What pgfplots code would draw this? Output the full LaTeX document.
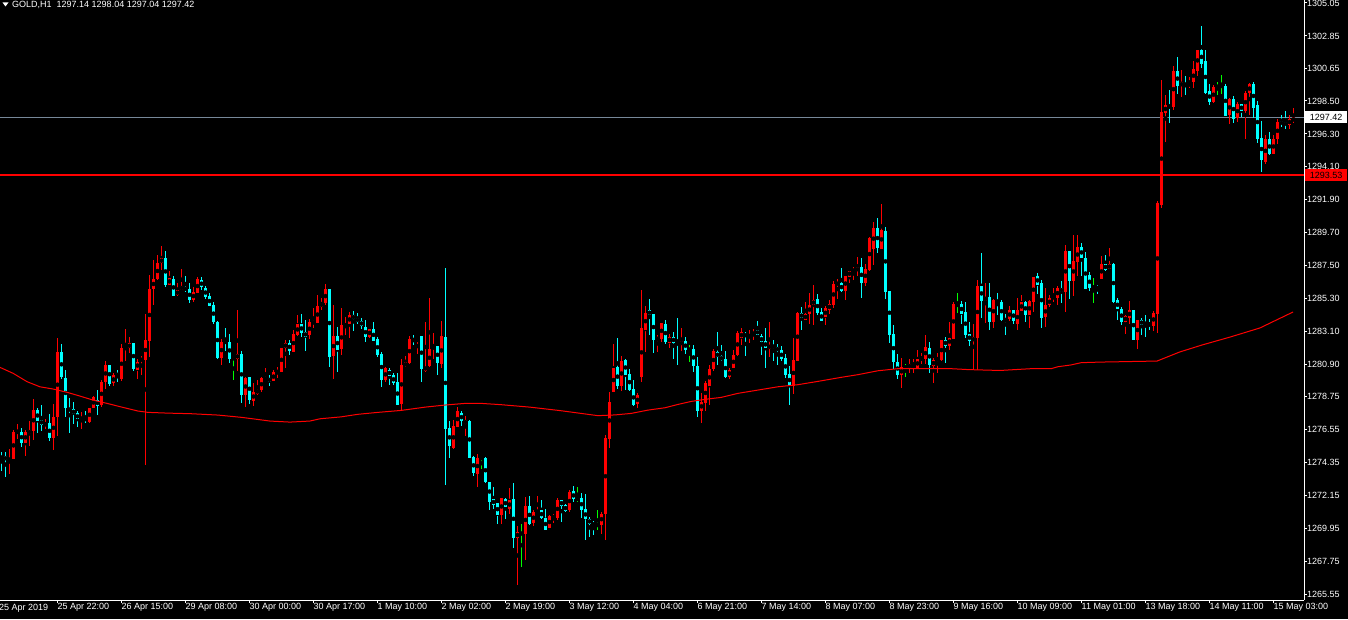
\documentclass[border=0pt]{standalone}
\usepackage{pgfplots}
\pgfplotsset{compat=1.18}
\usepackage{pgfplotstable}
\usepackage{fontspec}
\setmainfont{Liberation Sans}
\definecolor{bullc}{RGB}{255,0,0}
\definecolor{bearc}{RGB}{0,255,255}
\definecolor{dojic}{RGB}{0,255,0}
\definecolor{bidc}{RGB}{119,136,153}
\newcommand\axfont{\fontsize{9}{10}\selectfont}

\pgfplotstableread{
k o h l c
0 1274.79 1275.04 1273.79 1274.57
1 1274.77 1275.04 1273.39 1274.50
2 1274.45 1275.24 1273.57 1274.63
3 1274.59 1276.51 1274.55 1276.38
4 1276.33 1276.91 1275.89 1276.46
5 1276.42 1276.63 1275.39 1275.66
6 1275.66 1276.51 1274.77 1276.38
7 1276.24 1277.13 1275.44 1276.51
8 1276.46 1278.58 1275.84 1277.89
9 1277.84 1278.02 1276.33 1277.13
10 1277.18 1278.18 1276.46 1276.87
11 1276.83 1277.23 1276.60 1276.98
12 1276.96 1277.57 1275.79 1275.97
13 1275.97 1278.24 1275.17 1277.36
14 1277.36 1282.65 1276.11 1281.73
15 1281.73 1282.30 1279.94 1280.07
16 1280.03 1280.52 1277.39 1277.97
17 1277.97 1278.69 1276.33 1277.79
18 1277.89 1278.42 1276.91 1277.57
19 1277.62 1277.75 1276.73 1277.23
20 1277.23 1277.75 1276.60 1277.36
21 1277.31 1277.79 1276.96 1277.18
22 1277.05 1278.02 1276.96 1278.02
23 1278.02 1278.78 1278.02 1278.69
24 1278.56 1279.18 1277.53 1278.11
25 1278.16 1279.85 1278.06 1279.72
26 1279.72 1281.10 1279.27 1280.88
27 1280.88 1280.88 1279.45 1279.63
28 1279.63 1280.34 1279.50 1280.17
29 1280.30 1280.52 1279.72 1280.12
30 1279.92 1282.25 1279.80 1281.99
31 1281.93 1283.26 1281.14 1282.06
32 1281.99 1282.74 1281.68 1282.30
33 1282.30 1282.30 1280.47 1280.61
34 1280.57 1281.28 1279.94 1281.10
35 1281.14 1281.46 1280.21 1281.28
36 1281.23 1284.26 1274.19 1282.52
37 1282.47 1286.85 1281.41 1285.92
38 1285.96 1287.87 1284.89 1286.59
39 1286.63 1288.22 1286.54 1287.65
40 1287.65 1288.81 1287.20 1288.01
41 1288.05 1288.45 1286.05 1286.19
42 1286.23 1287.11 1286.23 1286.67
43 1286.59 1286.80 1285.47 1285.51
44 1285.51 1286.32 1285.51 1285.87
45 1285.87 1287.25 1285.87 1286.14
46 1286.05 1286.80 1285.74 1285.87
47 1285.92 1286.32 1285.02 1285.20
48 1285.20 1286.05 1285.07 1285.74
49 1285.69 1286.72 1285.65 1286.59
50 1286.54 1286.72 1285.87 1286.05
51 1286.00 1286.14 1285.29 1285.42
52 1285.47 1285.65 1284.80 1284.80
53 1284.85 1285.11 1283.64 1283.73
54 1283.73 1283.77 1281.28 1281.32
55 1281.32 1282.57 1280.88 1282.39
56 1282.47 1283.33 1281.81 1282.34
57 1282.39 1282.92 1280.97 1281.28
58 1281.37 1281.41 1279.85 1281.28
59 1281.28 1284.53 1280.47 1281.59
60 1281.59 1281.77 1278.29 1278.87
61 1278.87 1280.07 1278.06 1279.99
62 1280.03 1280.03 1278.24 1278.51
63 1278.47 1279.67 1278.16 1279.05
64 1278.96 1279.90 1278.87 1279.23
65 1279.18 1280.07 1279.05 1279.99
66 1279.90 1280.65 1279.85 1280.03
67 1280.03 1280.17 1279.45 1279.72
68 1279.78 1280.52 1279.76 1280.39
69 1280.34 1280.74 1279.99 1280.47
70 1280.43 1282.04 1280.39 1281.99
71 1281.99 1282.57 1280.65 1282.34
72 1282.34 1282.52 1281.55 1281.81
73 1281.73 1283.19 1281.73 1282.92
74 1282.88 1284.22 1282.79 1283.59
75 1283.59 1284.26 1282.74 1283.01
76 1283.06 1283.86 1281.81 1282.74
77 1282.84 1283.91 1282.61 1283.73
78 1283.64 1284.66 1283.33 1283.77
79 1283.68 1285.55 1283.64 1284.80
80 1284.75 1285.33 1284.53 1285.02
81 1284.98 1286.27 1284.89 1285.96
82 1285.96 1285.96 1280.70 1281.37
83 1281.46 1284.89 1279.94 1282.79
84 1282.79 1283.41 1280.39 1281.86
85 1281.90 1284.66 1281.55 1283.51
86 1283.46 1284.08 1282.84 1283.59
87 1283.59 1284.40 1282.70 1284.22
88 1284.22 1284.44 1283.10 1283.91
89 1284.04 1284.35 1283.64 1283.73
90 1283.82 1284.00 1283.24 1283.46
91 1283.39 1283.84 1282.37 1282.72
92 1282.77 1283.26 1282.67 1283.26
93 1283.26 1283.71 1282.46 1282.50
94 1282.59 1282.72 1281.39 1281.52
95 1281.57 1281.74 1279.38 1279.87
96 1279.83 1280.72 1279.74 1280.63
97 1280.50 1280.63 1279.52 1280.14
98 1280.19 1280.32 1279.52 1279.65
99 1279.70 1280.32 1278.18 1278.22
100 1278.26 1281.26 1277.78 1280.86
101 1280.77 1281.44 1280.72 1281.04
102 1280.99 1282.77 1280.90 1282.59
103 1282.59 1282.86 1282.23 1282.46
104 1282.46 1282.63 1281.61 1282.63
105 1282.77 1282.77 1279.74 1280.59
106 1280.50 1283.71 1280.41 1280.77
107 1280.77 1285.35 1280.72 1281.93
108 1281.93 1282.99 1281.26 1282.11
109 1282.11 1282.11 1280.19 1280.99
110 1280.90 1283.79 1280.67 1282.77
111 1282.77 1287.36 1272.83 1276.58
112 1276.62 1277.11 1274.66 1275.42
113 1275.28 1277.16 1275.28 1276.76
114 1276.71 1278.09 1276.71 1277.78
115 1277.64 1277.82 1276.80 1277.11
116 1276.89 1277.42 1276.09 1277.20
117 1277.11 1277.20 1274.62 1274.66
118 1274.70 1274.79 1273.45 1273.63
119 1273.59 1274.88 1272.70 1274.62
120 1274.63 1274.68 1273.92 1274.63
121 1274.63 1274.72 1272.99 1273.03
122 1273.08 1273.08 1271.16 1271.74
123 1271.88 1272.68 1271.25 1271.52
124 1271.61 1271.61 1270.23 1270.85
125 1270.85 1271.96 1270.23 1271.96
126 1271.88 1271.96 1270.58 1271.38
127 1271.25 1272.63 1270.94 1271.83
128 1271.88 1272.95 1268.62 1269.29
129 1269.29 1270.09 1266.17 1269.69
130 1269.60 1270.27 1267.37 1269.60
131 1269.56 1272.05 1267.82 1271.43
132 1271.43 1272.14 1270.18 1270.27
133 1270.27 1271.21 1270.14 1271.03
134 1270.98 1272.10 1270.98 1271.16
135 1271.16 1271.83 1270.54 1270.63
136 1270.67 1271.21 1269.82 1269.82
137 1269.96 1270.85 1269.96 1270.76
138 1270.63 1270.89 1270.31 1270.76
139 1270.67 1271.96 1270.49 1271.83
140 1271.83 1271.83 1270.36 1271.43
141 1271.48 1271.56 1271.03 1271.11
142 1271.16 1272.50 1271.07 1272.37
143 1272.41 1272.81 1271.74 1271.88
144 1271.88 1272.68 1271.70 1271.96
145 1271.96 1272.28 1270.63 1271.16
146 1271.21 1272.23 1269.16 1270.54
147 1270.58 1270.67 1269.34 1270.23
148 1270.27 1270.45 1269.47 1270.14
149 1270.23 1271.16 1269.82 1270.14
150 1270.18 1271.07 1269.56 1270.94
151 1270.89 1276.20 1269.16 1275.97
152 1275.93 1279.05 1275.30 1278.38
153 1279.05 1282.25 1279.05 1280.65
154 1280.70 1282.65 1279.27 1279.45
155 1279.45 1281.46 1279.10 1281.14
156 1281.23 1281.23 1279.18 1280.17
157 1280.25 1280.57 1279.14 1279.18
158 1279.23 1279.90 1278.11 1278.16
159 1278.24 1279.00 1277.97 1278.83
160 1280.07 1285.92 1279.72 1283.33
161 1283.24 1284.80 1281.73 1284.35
162 1284.53 1285.29 1282.88 1284.17
163 1284.26 1284.26 1281.68 1282.52
164 1282.52 1282.88 1281.73 1282.70
165 1282.61 1283.68 1282.39 1283.68
166 1283.59 1283.86 1282.25 1282.39
167 1282.34 1282.92 1281.99 1282.74
168 1282.74 1283.06 1281.23 1282.34
169 1282.34 1284.00 1280.88 1282.21
170 1282.17 1283.33 1281.81 1282.47
171 1282.47 1282.70 1281.59 1281.86
172 1281.90 1282.21 1281.05 1281.90
173 1281.94 1282.17 1280.39 1280.79
174 1280.83 1281.41 1277.39 1277.79
175 1277.79 1279.00 1276.99 1278.42
176 1278.33 1279.80 1277.79 1279.67
177 1279.45 1280.88 1278.16 1280.61
178 1280.57 1281.95 1280.43 1281.81
179 1281.73 1283.06 1280.88 1281.37
180 1281.46 1282.21 1281.10 1281.19
181 1281.28 1281.77 1279.99 1280.03
182 1280.07 1280.65 1279.94 1280.52
183 1280.65 1281.86 1280.65 1281.50
184 1281.50 1283.15 1281.46 1282.97
185 1282.65 1283.37 1282.17 1283.06
186 1282.92 1283.06 1281.46 1282.79
187 1282.74 1283.19 1282.34 1282.88
188 1282.84 1283.28 1282.52 1283.10
189 1283.19 1283.82 1282.84 1282.88
190 1282.79 1282.92 1281.55 1282.39
191 1282.47 1283.33 1280.65 1281.99
192 1281.94 1283.73 1281.41 1282.21
193 1282.21 1282.52 1281.10 1281.99
194 1282.08 1282.25 1280.88 1281.77
195 1281.86 1282.12 1281.14 1281.23
196 1281.32 1281.59 1279.99 1280.21
197 1280.25 1280.79 1278.20 1279.45
198 1279.50 1282.65 1278.91 1281.19
199 1281.14 1284.44 1281.10 1284.35
200 1284.35 1284.71 1283.19 1284.00
201 1283.91 1285.07 1283.91 1284.26
202 1284.26 1285.69 1283.64 1284.89
203 1284.89 1286.23 1283.55 1285.20
204 1285.29 1285.60 1284.22 1284.31
205 1284.40 1284.66 1283.82 1283.82
206 1284.04 1284.80 1283.55 1284.66
207 1284.53 1285.20 1284.31 1284.98
208 1284.89 1286.49 1284.66 1286.27
209 1286.23 1286.63 1285.24 1286.36
210 1286.32 1287.34 1285.74 1285.82
211 1285.82 1286.80 1285.20 1286.80
212 1286.76 1287.16 1286.32 1287.16
213 1287.12 1287.43 1286.54 1287.25
214 1287.12 1288.09 1286.80 1287.43
215 1287.43 1288.01 1285.33 1286.36
216 1286.36 1287.61 1286.14 1287.29
217 1287.20 1289.39 1287.16 1289.34
218 1288.63 1290.41 1287.52 1290.01
219 1290.01 1290.68 1288.36 1288.68
220 1288.63 1291.62 1288.63 1289.88
221 1289.83 1290.10 1285.29 1285.74
222 1285.82 1285.82 1282.34 1282.88
223 1282.92 1283.55 1280.61 1281.05
224 1281.05 1281.59 1279.94 1280.21
225 1280.17 1281.32 1279.36 1280.70
226 1280.74 1280.92 1280.03 1280.65
227 1280.65 1281.23 1280.30 1280.92
228 1280.79 1281.23 1280.30 1281.01
229 1280.65 1281.86 1280.65 1281.28
230 1281.23 1281.63 1280.92 1281.41
231 1281.23 1282.88 1280.92 1282.08
232 1281.99 1282.39 1280.34 1280.88
233 1280.79 1281.32 1279.67 1281.19
234 1281.19 1281.63 1280.30 1281.32
235 1281.19 1282.52 1281.10 1282.52
236 1282.57 1282.74 1280.97 1282.12
237 1282.17 1283.77 1281.90 1282.70
238 1282.61 1285.07 1282.61 1284.93
239 1284.85 1285.65 1284.31 1284.93
240 1284.93 1285.11 1283.59 1284.31
241 1284.40 1285.07 1282.70 1282.84
242 1282.92 1283.73 1282.12 1282.47
243 1282.47 1283.59 1280.57 1282.70
244 1282.65 1286.54 1280.52 1286.14
245 1286.14 1288.32 1284.00 1285.15
246 1285.15 1286.32 1283.68 1285.42
247 1285.38 1286.32 1283.19 1283.73
248 1283.73 1285.29 1283.37 1285.20
249 1285.20 1285.65 1284.22 1285.02
250 1285.07 1285.24 1283.82 1283.86
251 1283.95 1284.26 1282.88 1283.82
252 1283.95 1284.80 1283.82 1284.53
253 1284.53 1284.53 1283.59 1283.82
254 1283.59 1285.33 1283.24 1284.53
255 1284.49 1285.55 1284.44 1285.07
256 1285.07 1285.15 1283.73 1284.22
257 1284.17 1285.20 1283.33 1285.11
258 1285.07 1286.72 1284.40 1286.72
259 1286.80 1287.02 1285.60 1286.23
260 1286.36 1286.54 1283.33 1284.04
261 1284.04 1286.00 1283.41 1284.85
262 1284.85 1285.55 1284.75 1285.33
263 1285.29 1286.00 1285.07 1285.47
264 1285.33 1286.14 1284.89 1286.00
265 1286.00 1286.49 1285.02 1285.74
266 1285.74 1288.90 1284.40 1288.49
267 1288.49 1288.49 1285.29 1286.45
268 1286.45 1289.56 1285.51 1287.79
269 1287.74 1289.56 1286.80 1288.76
270 1288.76 1289.03 1286.80 1288.01
271 1288.01 1288.41 1285.96 1285.96
272 1286.85 1287.07 1285.82 1286.00
273 1286.00 1286.67 1285.02 1286.09
274 1286.09 1286.23 1285.60 1285.96
275 1286.63 1288.14 1286.59 1287.61
276 1287.65 1288.22 1287.16 1287.20
277 1287.25 1288.68 1287.25 1287.61
278 1287.61 1287.69 1285.02 1285.07
279 1285.20 1285.33 1283.86 1284.58
280 1284.62 1284.71 1283.55 1283.73
281 1283.73 1284.22 1282.92 1284.17
282 1284.04 1285.15 1283.59 1284.53
283 1284.53 1284.53 1282.52 1282.52
284 1282.52 1283.86 1281.94 1283.86
285 1283.86 1284.04 1282.88 1283.55
286 1283.68 1284.22 1282.74 1283.55
287 1283.68 1283.95 1283.19 1283.46
288 1283.46 1284.49 1283.15 1284.35
289 1284.26 1291.84 1282.97 1291.70
290 1291.53 1299.90 1291.35 1297.77
291 1297.72 1298.92 1295.76 1298.25
292 1298.25 1299.23 1297.05 1298.03
293 1298.08 1300.84 1297.90 1300.52
294 1300.52 1301.46 1298.97 1299.50
295 1299.50 1300.57 1298.75 1299.77
296 1299.72 1300.17 1298.92 1299.50
297 1299.50 1300.12 1299.37 1299.72
298 1299.77 1301.19 1299.37 1300.62
299 1300.52 1301.91 1300.17 1301.91
300 1301.91 1303.51 1300.70 1301.02
301 1301.19 1301.91 1299.01 1299.05
302 1299.19 1299.63 1298.25 1298.43
303 1298.43 1299.59 1298.35 1299.41
304 1299.41 1299.77 1298.88 1299.50
305 1299.50 1300.22 1298.97 1299.50
306 1299.50 1299.63 1297.50 1297.54
307 1297.54 1298.70 1296.96 1298.61
308 1298.61 1298.83 1297.01 1297.32
309 1297.36 1298.43 1297.10 1298.30
310 1298.30 1298.30 1297.41 1297.81
311 1297.81 1299.15 1295.98 1299.05
312 1299.05 1299.72 1297.54 1299.63
313 1299.63 1299.77 1297.36 1298.08
314 1298.21 1298.52 1295.71 1295.98
315 1296.03 1297.14 1293.75 1294.56
316 1294.42 1296.21 1294.29 1295.94
317 1295.94 1296.43 1294.91 1295.00
318 1295.00 1296.21 1294.96 1295.94
319 1295.94 1297.28 1295.67 1297.10
320 1297.14 1297.58 1296.78 1296.96
321 1297.10 1297.81 1296.61 1296.87
322 1296.87 1297.54 1296.65 1297.32
323 1297.14 1298.04 1297.04 1297.42
}\candles

\pgfplotstableread{
k ma
-0.4 1280.70
2.9 1280.30
6.4 1279.74
9.6 1279.40
12.9 1279.25
16.4 1279.03
19.6 1278.78
22.9 1278.51
26.4 1278.29
30.1 1278.04
34.1 1277.78
36.6 1277.69
41.6 1277.64
47.4 1277.60
54.1 1277.51
59.9 1277.36
63.4 1277.24
67.1 1277.11
72.1 1277.04
77.1 1277.11
79.6 1277.26
84.9 1277.39
89.1 1277.56
94.1 1277.69
99.9 1277.82
105.9 1278.04
110.9 1278.18
115.9 1278.29
119.9 1278.29
124.6 1278.21
132.1 1278.04
139.6 1277.81
149.1 1277.47
153.4 1277.52
157.4 1277.62
161.6 1277.84
165.9 1278.00
169.1 1278.22
172.4 1278.42
175.9 1278.56
179.9 1278.69
184.1 1278.96
189.1 1279.18
194.1 1279.40
199.1 1279.54
204.1 1279.76
209.9 1280.03
214.1 1280.21
219.1 1280.47
224.1 1280.61
237.4 1280.61
241.6 1280.55
249.6 1280.49
257.4 1280.61
262.4 1280.61
264.1 1280.74
267.4 1280.86
269.9 1281.01
274.6 1281.05
288.9 1281.12
294.6 1281.73
300.1 1282.19
307.1 1282.72
314.6 1283.33
322.9 1284.40
}\maline

\pgfplotsset{
  cdl/.style n args={2}{only marks, mark=none, forget plot,
    unbounded coords=discard,
    error bars/.cd, y dir=both, y explicit, error mark=none,
    error bar style={draw=#1, line width=#2}},
}

\begin{document}
\begin{tikzpicture}[x=1pt,y=1pt]
\useasboundingbox (0,0) rectangle (1348,619);
\fill[black] (0,0) rectangle (1348,619);
\begin{axis}[
  at={(0pt,19pt)}, anchor=south west,
  scale only axis, width=1304pt, height=600pt,
  xmin=-0.375, xmax=325.625, ymin=1265.15, ymax=1305.25,
  axis x line*=bottom, axis y line*=right,
  axis line style={white, line width=1pt},
  clip mode=individual,
  tick align=outside, major tick length=3pt,
  tick style={white, line width=1pt},
  ytick={1265.55,1267.75,1269.95,1272.15,1274.35,1276.55,1278.75,1280.90,1283.10,1285.30,1287.50,1289.70,1291.90,1294.10,1296.30,1298.50,1300.65,1302.85,1305.05},
  yticklabels={1265.55,1267.75,1269.95,1272.15,1274.35,1276.55,1278.75,1280.90,1283.10,1285.30,1287.50,1289.70,1291.90,1294.10,1296.30,1298.50,1300.65,1302.85,1305.05},
  yticklabel style={text=white, font=\axfont, anchor=west, inner sep=0pt},
  xtick={14,30,46,62,78,94,110,126,142,158,174,190,206,222,238,254,270,286,302,318},
  xticklabels={25 Apr 22:00,26 Apr 15:00,29 Apr 08:00,30 Apr 00:00,30 Apr 17:00,1 May 10:00,2 May 02:00,2 May 19:00,3 May 12:00,4 May 04:00,6 May 21:00,7 May 14:00,8 May 07:00,8 May 23:00,9 May 16:00,10 May 09:00,11 May 01:00,13 May 18:00,14 May 11:00,15 May 03:00},
  xticklabel style={text=white, font=\axfont, anchor=north west, inner sep=0pt},
]
% bid line under candles
\addplot[bidc, line width=1pt, forget plot] coordinates {(-0.375,1297.42) (325.625,1297.42)};
% wicks
\addplot[cdl={bullc}{1pt}] table[x expr={\thisrow{c}>\thisrow{o} ? \thisrow{k} : nan}, y expr={(\thisrow{h}+\thisrow{l})/2}, y error expr={(\thisrow{h}-\thisrow{l})/2}] {\candles};
\addplot[cdl={bearc}{1pt}] table[x expr={\thisrow{c}<\thisrow{o} ? \thisrow{k} : nan}, y expr={(\thisrow{h}+\thisrow{l})/2}, y error expr={(\thisrow{h}-\thisrow{l})/2}] {\candles};
\addplot[cdl={dojic}{1pt}] table[x expr={\thisrow{c}==\thisrow{o} ? \thisrow{k} : nan}, y expr={(\thisrow{h}+\thisrow{l})/2}, y error expr={(\thisrow{h}-\thisrow{l})/2}] {\candles};
% bodies
\addplot[cdl={bullc}{3pt}] table[x expr={\thisrow{c}>\thisrow{o} ? \thisrow{k} : nan}, y expr={(\thisrow{o}+\thisrow{c})/2}, y error expr={max(abs(\thisrow{c}-\thisrow{o})/2,0.034)}] {\candles};
\addplot[cdl={bearc}{3pt}] table[x expr={\thisrow{c}<\thisrow{o} ? \thisrow{k} : nan}, y expr={(\thisrow{o}+\thisrow{c})/2}, y error expr={max(abs(\thisrow{c}-\thisrow{o})/2,0.034)}] {\candles};
\addplot[cdl={dojic}{3pt}] table[x expr={\thisrow{c}==\thisrow{o} ? \thisrow{k} : nan}, y expr={(\thisrow{o}+\thisrow{c})/2}, y error expr={0.034}] {\candles};
% moving average
\addplot[bullc, line width=1pt, no marks] table[x=k, y=ma] {\maline};
% horizontal line
\addplot[bullc, line width=2pt, no marks] coordinates {(-0.375,1293.53) (325.625,1293.53)};
% price scale boxes
\node[fill=white, text=black, font=\axfont, anchor=west, inner sep=0pt, minimum width=42pt, minimum height=12pt, xshift=1pt] at (axis cs:325.625,1297.42) {1297.42};
\node[fill=bullc, text=black, font=\axfont, anchor=west, inner sep=0pt, minimum width=42pt, minimum height=12pt, xshift=1pt] at (axis cs:325.625,1293.53) {1293.53};
\node[text=white, font=\axfont, anchor=north west, inner sep=0pt, xshift=-1pt, yshift=-4pt] at (axis cs:-0.375,1265.15) {25 Apr 2019};
\end{axis}
\fill[white] (2.5,616.5) -- (8.5,616.5) -- (5.5,612.5) -- cycle;
\node[text=white, font=\axfont, anchor=west, inner sep=0pt] at (12,614.5) {GOLD,H1\ \ 1297.14 1298.04 1297.04 1297.42};
\end{tikzpicture}
\end{document}
